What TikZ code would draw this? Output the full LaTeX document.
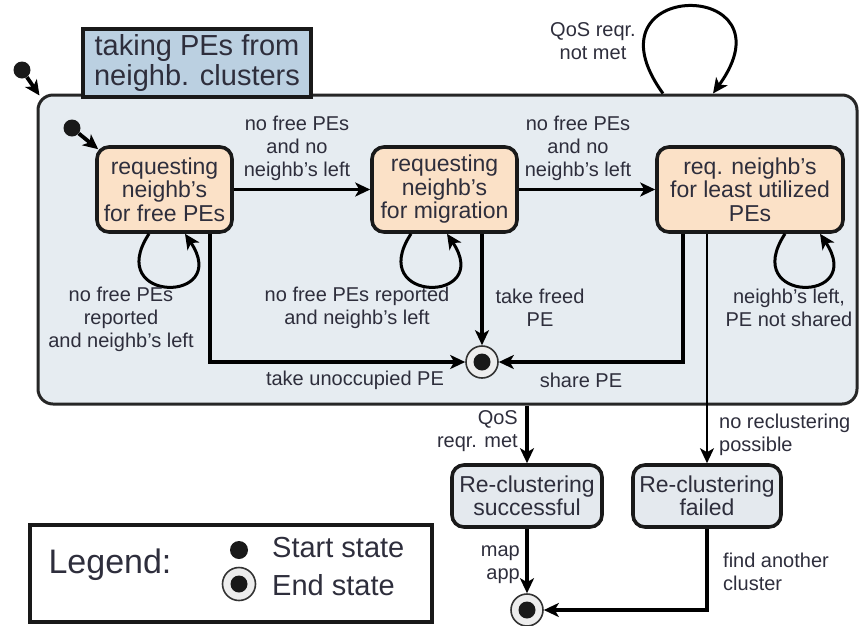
\documentclass[tikz,border=0pt]{standalone}
\usepackage{fontspec}
\setmainfont{Liberation Sans}
\usetikzlibrary{arrows.meta}
\definecolor{inkc}{HTML}{2E2E3C}
\definecolor{superfill}{HTML}{E6ECF1}
\definecolor{titlefill}{HTML}{BBD0E1}
\definecolor{statefill}{HTML}{FBE1C7}
\definecolor{outfill}{HTML}{E4E9EE}
\definecolor{ringfill}{HTML}{EDEDED}
\begin{document}
\begin{tikzpicture}[x=1pt,y=-1pt,
  every node/.style={text=inkc},
  tip/.style={-{Stealth[length=15pt,width=14pt,inset=4pt]}},
  arr/.style={line width=3.8pt,tip},
  looparr/.style={line width=3pt,tip},
  thinarr/.style={line width=2pt,tip},
  superbox/.style={draw=black!85,line width=3pt,fill=superfill,rounded corners=15pt,inner sep=0pt},
  titlebox/.style={draw=black!90,line width=3.8pt,fill=titlefill,align=center,font=\fontsize{29}{30}\selectfont,inner sep=0pt},
  statebox/.style={draw=black!90,line width=3.6pt,fill=statefill,rounded corners=12pt,align=center,font=\fontsize{23}{23.5}\selectfont,inner sep=0pt},
  outbox/.style={statebox,fill=outfill},
  lbl/.style={font=\fontsize{20}{23}\selectfont,align=center,inner sep=0pt},
  startdot/.style={circle,fill=black!90,minimum size=17pt,inner sep=0pt},
  enddot/.style={circle,draw=black!80,line width=1.6pt,fill=ringfill,minimum size=32pt,inner sep=0pt,
    path picture={\fill[black!90] (path picture bounding box.center) circle (8.5pt);}},
]
\useasboundingbox (0,0) rectangle (860,625);

% composite state and its title tab
\node[superbox,minimum width=819pt,minimum height=309pt] (sup) at (447.5,249.5) {};
\node[titlebox,minimum width=228pt,minimum height=68pt] (ttl) at (197,63) {taking PEs from\\neighb. clusters};

% start states
\node[startdot] (s0) at (22,70) {};
\node[startdot] (s1i) at (72,128) {};

% inner states
\node[statebox,minimum width=135pt,minimum height=85pt] (s1) at (164.5,189.5) {requesting\\neighb's\\for free PEs};
\node[statebox,minimum width=145pt,minimum height=85pt] (s2) at (444.5,189.5) {requesting\\neighb's\\for migration};
\node[statebox,minimum width=186pt,minimum height=85pt] (s3) at (750,189.5) {req. neighb's\\for least utilized\\PEs};

% end states
\node[enddot] (e1) at (482,362) {};
\node[enddot] (e2) at (527,610) {};

% outer states
\node[outbox,minimum width=150pt,minimum height=62pt] (succ) at (527,496) {Re-clustering\\successful};
\node[outbox,minimum width=148pt,minimum height=62pt] (fail) at (707,496) {Re-clustering\\failed};

% transitions
\draw[arr] (s0) -- ([xshift=3pt,yshift=-2pt]sup.north west);
\draw[arr] (s1i) -- ([xshift=3pt,yshift=-4pt]s1.north west);
\draw[arr] (s1.east) -- (s2.west);
\draw[arr] (s2.east) -- (s3.west);

\draw[looparr] ([xshift=-15.5pt]s1.south) .. controls +(-46,70) and +(47,70) .. ([xshift=20.5pt]s1.south);
\draw[looparr] ([xshift=-33.5pt]s2.south) .. controls +(-46,70) and +(47,70) .. ([xshift=2.5pt]s2.south);
\draw[looparr] ([xshift=35pt]s3.south) .. controls +(-46,70) and +(47,70) .. ([xshift=70pt]s3.south);
\draw[looparr] ([xshift=215.5pt]sup.north) .. controls +(-84,-116) and +(84,-116) .. ([xshift=265.5pt]sup.north);

\draw[arr] ([xshift=45.5pt]s1.south) |- (e1.west);
\draw[arr] (s2.south -| e1) -- (e1.north);
\draw[arr] ([xshift=-67pt]s3.south) |- (e1.east);
\draw[thinarr] (s3.south -| fail) -- (fail.north);
\draw[arr] (sup.south -| succ) -- (succ.north);
\draw[arr] (succ.south) -- (e2.north);
\draw[arr] (fail.south) |- (e2.east);

% transition labels
\node[lbl] (l12) at (297,148) {no free PEs\\and no\\neighb's left};
\node[lbl] (l23) at (578,148) {no free PEs\\and no\\neighb's left};
\node[lbl] (lqn) at (593,41) {QoS reqr.\\not met};
\node[lbl] (ll1) at (121,319) {no free PEs\\reported\\and neighb's left};
\node[lbl] (ll2) at (357,308) {no free PEs reported\\and neighb's left};
\node[lbl] (ltf) at (540,308) {take freed\\PE};
\node[lbl] (ll3) at (789,308) {neighb's left,\\PE not shared};
\node[lbl] (ltu) at (355,380) {take unoccupied PE};
\node[lbl] (lsh) at (581,380) {share PE};
\node[lbl,align=right,anchor=east] (lqm) at (518,431.5) {QoS\\reqr. met};
\node[lbl,align=left,anchor=west] (lnr) at (719,434.5) {no reclustering\\possible};
\node[lbl,align=right,anchor=east] (lma) at (520,565) {map\\app};
\node[lbl,align=left,anchor=west] (lfa) at (723,571.5) {find another\\cluster};

% legend
\node[draw=black!90,line width=3.3pt,minimum width=402pt,minimum height=97pt,inner sep=0pt] (lg) at (231,573.5) {};
\node[font=\fontsize{34}{36}\selectfont,inner sep=0pt] (lgt) at (110,565) {Legend:};
\node[startdot,minimum size=18pt] (lgs) at (239,550) {};
\node[enddot,minimum size=33pt] (lge) at (239,584) {};
\node[font=\fontsize{29}{30}\selectfont,anchor=west,inner sep=0pt] (lgst) at (272,548) {Start state};
\node[font=\fontsize{29}{30}\selectfont,anchor=west,inner sep=0pt] (lget) at (272,585) {End state};
\end{tikzpicture}
\end{document}
